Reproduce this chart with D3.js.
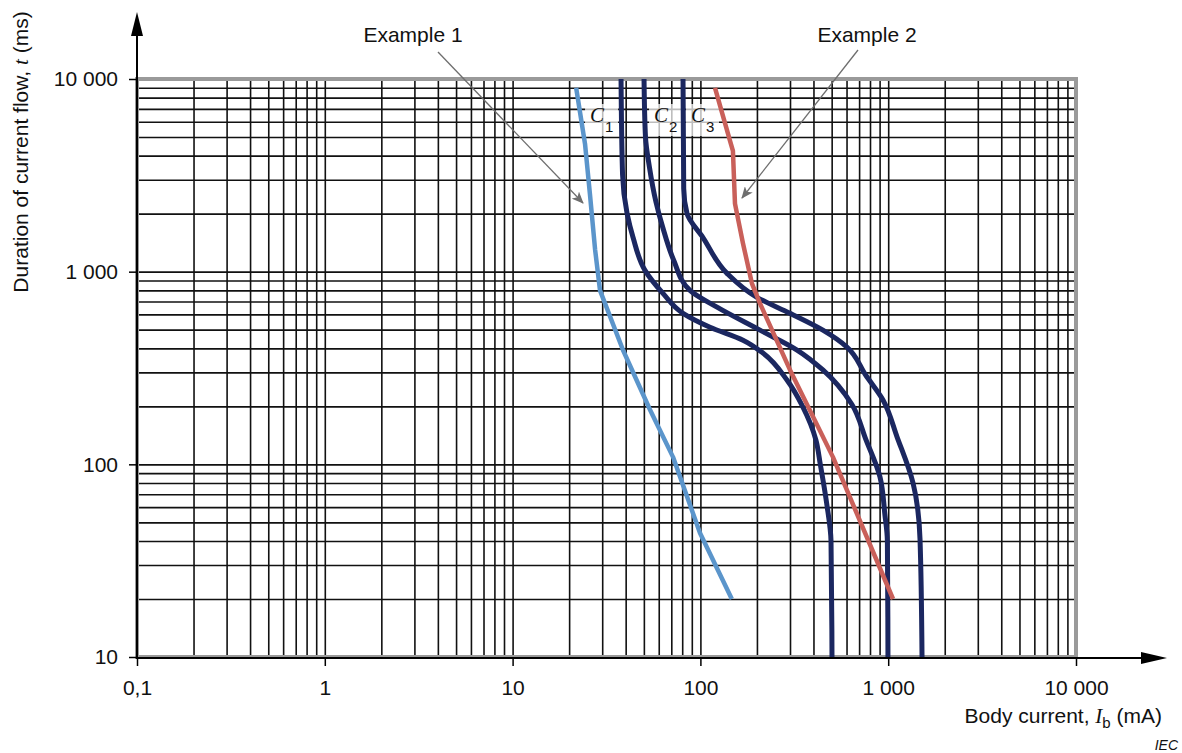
<!DOCTYPE html>
<html>
<head>
<meta charset="utf-8">
<script src="https://cdn.jsdelivr.net/npm/d3@7"></script>
<style>
  html, body { margin: 0; padding: 0; background: #fff; }
  svg { display: block; font-family: "Liberation Sans", Arial, sans-serif; }
</style>
</head>
<body>
<svg id="chart" width="1182" height="753"></svg>
<script>
// Axis ticks (log scales)
const xTicks = [0.1, 1, 10, 100, 1000, 10000];
const xTickLabels = ["0,1", "1", "10", "100", "1 000", "10 000"];
const yTicks = [10, 100, 1000, 10000];
const yTickLabels = ["10", "100", "1 000", "10 000"];

// Curves: [body current I (mA), duration t (ms)]
const curveC1 = [
  [37.8, 10000], [38.5, 3200], [40.7, 2002], [43.8, 1504], [50.7, 1016],
  [63.2, 772], [80.8, 608], [112.5, 515], [168.6, 441], [215.4, 378],
  [289, 274], [350, 200], [412, 134], [435, 100], [470, 63], [496, 40], [502, 10]
];
const curveC2 = [
  [50.1, 10000], [51, 5000], [53.5, 3500], [58, 2300], [63, 1700], [72, 1150],
  [88, 800], [122.6, 654], [207.7, 497], [327, 392], [449, 309],
  [640, 205], [762, 134], [904, 86], [960, 55], [990, 40], [997, 10]
];
const curveC3 = [
  [80.8, 10000], [81.5, 2700], [84.9, 2000], [103.2, 1504], [138.6, 980],
  [200, 736], [300, 608], [449, 497], [603, 406], [760, 290],
  [938, 216], [1114, 139], [1356, 80], [1477, 41], [1514, 10]
];
const example1 = [
  [21.8, 9000], [24.3, 4610], [25.8, 2540], [27.5, 1300], [29.2, 800],
  [38.7, 392], [53.9, 192], [71.5, 109], [99.5, 44], [147, 20]
];
const example2 = [
  [119.6, 9000], [143.8, 4780], [149, 4240], [152.8, 2256], [168.6, 1401],
  [188, 870], [207.6, 685], [300, 309], [508, 109], [1061, 20]
];
const curveNames = ["1", "2", "3"];

const svg = d3.select("#chart");
const x = d3.scaleLog().domain([0.1, 10000]).range([137, 1076]);
const y = d3.scaleLog().domain([10, 10000]).range([657, 79]);

// minor grid values: k * 10^n
function logGrid(lo, hi) {
  const out = [];
  for (let p = Math.log10(lo); p < Math.log10(hi); p++) {
    for (let k = 1; k <= 9; k++) out.push(k * Math.pow(10, p));
  }
  out.push(hi);
  return out;
}

// grid
const grid = svg.append("g");
grid.append("g")
  .attr("transform", `translate(0,${y.range()[0]})`)
  .call(d3.axisBottom(x).tickValues(logGrid(0.1, 10000)).tickSize(-(y.range()[0] - y.range()[1])).tickFormat(""))
  .call(g => g.select(".domain").remove())
  .call(g => g.selectAll("line").attr("stroke", "#111").attr("stroke-width", 1.6));
grid.append("g")
  .attr("transform", `translate(${x.range()[0]},0)`)
  .call(d3.axisLeft(y).tickValues(logGrid(10, 10000)).tickSize(-(x.range()[1] - x.range()[0])).tickFormat(""))
  .call(g => g.select(".domain").remove())
  .call(g => g.selectAll("line").attr("stroke", "#111").attr("stroke-width", 1.6));

// frame
svg.append("rect")
  .attr("x", x.range()[0]).attr("y", y.range()[1])
  .attr("width", x.range()[1] - x.range()[0])
  .attr("height", y.range()[0] - y.range()[1])
  .attr("fill", "none").attr("stroke", "#9a9a9a").attr("stroke-width", 4);

// curve labels C1, C2, C3 on translucent boxes
const labelSpecs = [
  { data: curveC1, dx: -31 },
  { data: curveC2, dx: 10 },
  { data: curveC3, dx: 8 }
];
const labels = svg.append("g");
labelSpecs.forEach((s, i) => {
  const lx = x(s.data[0][0]) + s.dx;
  labels.append("rect")
    .attr("x", lx - 5).attr("y", 104).attr("width", 33).attr("height", 32)
    .attr("fill", "#fff").attr("fill-opacity", 0.72);
  const t = labels.append("text").attr("x", lx).attr("y", 122).attr("fill", "#111");
  t.append("tspan").text("C")
    .attr("font-family", "'Liberation Serif', 'Times New Roman', serif")
    .attr("font-style", "italic").attr("font-size", 21);
  t.append("tspan").text(curveNames[i])
    .attr("font-size", 15).attr("dy", 10).attr("dx", 1);
});

// curves
const smooth = d3.line().x(d => x(d[0])).y(d => y(d[1])).curve(d3.curveMonotoneY);
const straight = d3.line().x(d => x(d[0])).y(d => y(d[1]));
const curves = svg.append("g").attr("fill", "none").attr("stroke-linejoin", "round").attr("stroke-linecap", "butt");
[curveC1, curveC2, curveC3].forEach(c => {
  curves.append("path").attr("d", smooth(c)).attr("stroke", "#1b2760").attr("stroke-width", 5);
});
curves.append("path").attr("d", straight(example1)).attr("stroke", "#5b95cb").attr("stroke-width", 4.5);
curves.append("path").attr("d", straight(example2)).attr("stroke", "#c9605a").attr("stroke-width", 4.5);

// axes with arrows
const axes = svg.append("g");
axes.append("line").attr("x1", 137).attr("x2", 137).attr("y1", 658).attr("y2", 30)
  .attr("stroke", "#000").attr("stroke-width", 2);
axes.append("path").attr("d", "M137,12 L131,36 L143,36 Z").attr("fill", "#000");
axes.append("line").attr("x1", 136).attr("x2", 1145).attr("y1", 658).attr("y2", 658)
  .attr("stroke", "#000").attr("stroke-width", 2);
axes.append("path").attr("d", "M1167,658 L1141,652 L1141,664 Z").attr("fill", "#000");

const yAxis = svg.append("g").attr("transform", "translate(137,0)")
  .call(d3.axisLeft(y).tickValues(yTicks).tickFormat((d, i) => yTickLabels[i]).tickSize(8).tickPadding(11));
yAxis.select(".domain").remove();
yAxis.selectAll("line").attr("stroke", "#000").attr("stroke-width", 1.5);
yAxis.selectAll("text").attr("font-size", 21).attr("fill", "#111")
  .attr("font-family", "'Liberation Sans', Arial, sans-serif");

const xAxis = svg.append("g").attr("transform", "translate(0,658)")
  .call(d3.axisBottom(x).tickValues(xTicks).tickFormat((d, i) => xTickLabels[i]).tickSize(8).tickPadding(14));
xAxis.select(".domain").remove();
xAxis.selectAll("line").attr("stroke", "#000").attr("stroke-width", 1.5);
xAxis.selectAll("text").attr("font-size", 21).attr("fill", "#111")
  .attr("font-family", "'Liberation Sans', Arial, sans-serif");

// axis titles
const serif = "'Liberation Serif', 'Times New Roman', serif";
const xt = svg.append("text").attr("x", 1162).attr("y", 723).attr("text-anchor", "end")
  .attr("font-size", 21).attr("fill", "#111");
xt.append("tspan").text("Body current, ");
xt.append("tspan").text("I").attr("font-family", serif).attr("font-style", "italic");
xt.append("tspan").text("b").attr("font-size", 15).attr("dy", 5);
xt.append("tspan").text(" (mA)").attr("dy", -5);

const yt = svg.append("text").attr("transform", "translate(28,152) rotate(-90)")
  .attr("text-anchor", "middle").attr("font-size", 21).attr("fill", "#111");
yt.append("tspan").text("Duration of current flow, ");
yt.append("tspan").text("t").attr("font-family", serif).attr("font-style", "italic");
yt.append("tspan").text(" (ms)");

svg.append("text").attr("x", 1178).attr("y", 750).attr("text-anchor", "end")
  .attr("font-size", 14).attr("font-style", "italic").attr("fill", "#111").text("IEC");

// example callouts
const defs = svg.append("defs");
defs.append("marker").attr("id", "ah").attr("viewBox", "0 0 12 10")
  .attr("refX", 11).attr("refY", 5).attr("markerWidth", 12).attr("markerHeight", 10)
  .attr("markerUnits", "userSpaceOnUse").attr("orient", "auto")
  .append("path").attr("d", "M0,0 L12,5 L0,10 L3,5 Z").attr("fill", "#6e6e6e");

const callouts = [
  { text: "Example 1", tx: 413, from: [438, 52], to: [583, 203] },
  { text: "Example 2", tx: 867, from: [858, 50], to: [742, 198] }
];
callouts.forEach(c => {
  svg.append("text").attr("x", c.tx).attr("y", 42).attr("text-anchor", "middle")
    .attr("font-size", 21).attr("fill", "#111").text(c.text);
  svg.append("line").attr("x1", c.from[0]).attr("y1", c.from[1])
    .attr("x2", c.to[0]).attr("y2", c.to[1])
    .attr("stroke", "#6e6e6e").attr("stroke-width", 1.3).attr("marker-end", "url(#ah)");
});
</script>
</body>
</html>
